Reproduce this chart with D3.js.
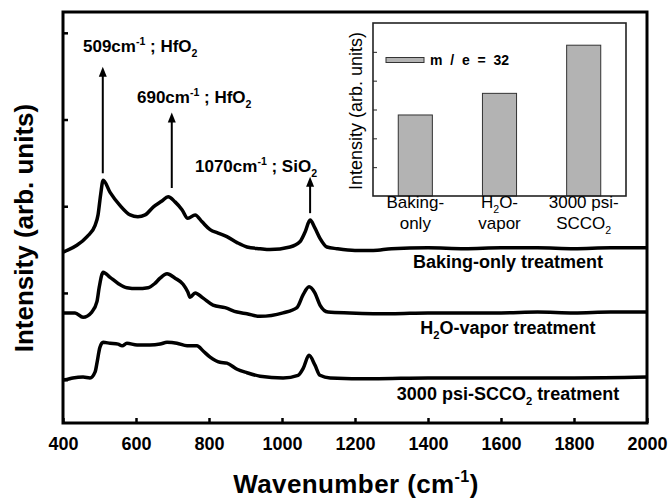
<!DOCTYPE html>
<html>
<head>
<meta charset="utf-8">
<script src="https://cdn.jsdelivr.net/npm/d3@7"></script>
<style>
  body { margin: 0; background: #fff; }
  text { font-family: Arial, "Liberation Sans", sans-serif; white-space: pre; }
</style>
</head>
<body>
<div id="graf"></div>
<script>
// Datos: espectros (número de onda, intensidad desplazada)
const bakingOnly = [[400,1.97],[405,1.98],[438,2.05],[466,2.15],[488,2.28],[496,2.40],[503,2.63],[510,2.80],
  [529,2.66],[556,2.51],[584,2.40],[605,2.38],[625,2.40],[647,2.49],[671,2.56],[688,2.61],[707,2.55],[726,2.46],
  [742,2.36],[762,2.40],[781,2.32],[803,2.23],[825,2.19],[849,2.15],[877,2.08],[904,2.03],[940,2.01],[967,2.00],
  [1022,2.03],[1049,2.09],[1063,2.20],[1077,2.34],[1090,2.25],[1104,2.13],[1123,2.03],[1151,2.01],[1200,1.99],
  [1250,1.99],[1300,2.01],[1400,2.02],[1500,2.01],[1600,2.02],[1700,2.02],[1800,2.01],[1900,2.02],[2000,2.02]];

const h2oVapor = [[400,1.27],[405,1.27],[433,1.27],[455,1.22],[479,1.28],[493,1.40],[499,1.56],[510,1.74],
  [529,1.68],[551,1.61],[575,1.56],[603,1.55],[633,1.56],[652,1.61],[666,1.67],[685,1.72],[707,1.67],[729,1.60],
  [742,1.51],[748,1.45],[762,1.50],[784,1.44],[811,1.36],[844,1.33],[877,1.28],[904,1.26],[940,1.23],[1003,1.27],
  [1041,1.33],[1058,1.48],[1074,1.57],[1090,1.50],[1104,1.36],[1126,1.28],[1186,1.27],[1300,1.26],[1400,1.27],
  [1500,1.27],[1600,1.27],[1700,1.28],[1800,1.27],[1900,1.28],[2000,1.28]];

const scco2 = [[400,0.50],[405,0.50],[427,0.52],[455,0.53],[474,0.52],[488,0.59],[493,0.69],[501,0.87],
  [510,0.93],[529,0.92],[551,0.91],[562,0.89],[575,0.92],[603,0.90],[638,0.90],[666,0.91],[685,0.93],[712,0.92],
  [740,0.89],[767,0.89],[784,0.83],[803,0.76],[830,0.70],[849,0.69],[877,0.62],[904,0.58],[940,0.54],[1003,0.52],
  [1044,0.55],[1058,0.63],[1074,0.78],[1090,0.67],[1104,0.55],[1132,0.52],[1250,0.51],[1400,0.52],[1600,0.52],
  [1800,0.52],[2000,0.53]];

const xTicks = [400, 600, 800, 1000, 1200, 1400, 1600, 1800, 2000];
const yTicks = [0.5, 1.5, 2.5, 3.5, 4.5];

// Picos anotados
const peakWaves = [509, 698, 1077];
const peakBase = [2.88, 2.71, 2.42];
const peakTip = [4.11, 3.58, 2.84];
const peakLabels = [
  [["509cm"], ["-1", "sup"], [" ; HfO"], ["2", "sub"]],
  [["690cm"], ["-1", "sup"], [" ; HfO"], ["2", "sub"]],
  [["1070cm"], ["-1", "sup"], [" ; SiO"], ["2", "sub"]],
];

const treatmentLabels = [
  [["Baking-only treatment"]],
  [["H"], ["2", "sub"], ["O-vapor treatment"]],
  [["3000 psi-SCCO"], ["2", "sub"], [" treatment"]],
];

// Inserto: m/e = 32
const insetCats = ["Baking-only", "H2O-vapor", "SCCO2"];
const insetValues = [2.81, 3.56, 5.23];
const insetTicks = [1, 2, 3, 4, 5];
const insetCatLabels = [
  [[["Baking-"]], [["only"]]],
  [[["H"], ["2", "sub"], ["O-"]], [["vapor"]]],
  [[["3000 psi-"]], [["SCCO"], ["2", "sub"]]],
];

// Dimensiones
const anchoTotal = 669;
const altoTotal = 501;
const margins = { top: 12, right: 22, bottom: 78, left: 63 };
const ancho = anchoTotal - margins.left - margins.right;
const alto = altoTotal - margins.top - margins.bottom;

const svg = d3.select("#graf").append("svg")
  .attr("width", anchoTotal)
  .attr("height", altoTotal);

const g = svg.append("g")
  .attr("transform", `translate(${margins.left}, ${margins.top})`);

const x = d3.scaleLinear().domain([400, 2000]).range([0, ancho]);
const y = d3.scaleLinear().domain([0, 4.74]).range([alto, 0]);

// texto con sub/superíndices
function rich(sel, parts, size) {
  let shift = 0;
  parts.forEach(([t, k]) => {
    const target = k === "sup" ? -0.42 * size : k === "sub" ? 0.28 * size : 0;
    const ts = sel.append("tspan").text(t);
    if (k) ts.style("font-size", size * 0.62 + "px");
    if (target - shift !== 0) ts.attr("dy", target - shift);
    shift = target;
  });
  return sel;
}

// Ejes
const xAxis = g.append("g")
  .attr("transform", `translate(0, ${alto})`)
  .call(d3.axisBottom(x).tickValues(xTicks).tickFormat(d3.format("d")).tickSizeInner(-5).tickSizeOuter(0));
xAxis.select(".domain").remove();
xAxis.selectAll("line").attr("stroke", "#000").attr("stroke-width", 2.5);
xAxis.selectAll("text")
  .attr("y", 27).attr("dy", null)
  .style("font-size", "18px").style("font-weight", "bold").attr("fill", "#000");

const yAxis = g.append("g")
  .call(d3.axisLeft(y).tickValues(yTicks).tickSizeInner(-5).tickSizeOuter(0).tickFormat(""));
yAxis.select(".domain").remove();
yAxis.selectAll("line").attr("stroke", "#000").attr("stroke-width", 2.5);

// Espectros
const line = d3.line().x(d => x(d[0])).y(d => y(d[1])).curve(d3.curveMonotoneX);
g.selectAll(".espectro")
  .data([bakingOnly, h2oVapor, scco2])
  .enter()
  .append("path")
  .attr("class", "espectro")
  .attr("d", line)
  .attr("fill", "none")
  .attr("stroke", "#000")
  .attr("stroke-width", 3.5)
  .attr("stroke-linejoin", "round");

// Marco
g.append("rect")
  .attr("width", ancho).attr("height", alto)
  .attr("fill", "none").attr("stroke", "#000").attr("stroke-width", 3);

// Flechas de picos
peakWaves.forEach((w, i) => {
  const px = x(w), tip = y(peakTip[i]), base = y(peakBase[i]);
  g.append("line")
    .attr("x1", px).attr("x2", px)
    .attr("y1", base).attr("y2", tip + 8)
    .attr("stroke", "#000").attr("stroke-width", 2);
  g.append("path")
    .attr("d", `M${px},${tip} L${px - 4},${tip + 10} L${px + 4},${tip + 10} Z`)
    .attr("fill", "#000");
});

const labelPos = [[20, 40], [74, 91], [132, 160]];
peakLabels.forEach((parts, i) => {
  const t = g.append("text")
    .attr("x", labelPos[i][0]).attr("y", labelPos[i][1])
    .style("font-size", "17px").style("font-weight", "bold");
  rich(t, parts, 17);
});

// Etiquetas de tratamiento
const treatY = [256, 322, 388];
treatmentLabels.forEach((parts, i) => {
  const t = g.append("text")
    .attr("x", 445).attr("y", treatY[i])
    .attr("text-anchor", "middle")
    .style("font-size", "18px").style("font-weight", "bold");
  rich(t, parts, 18);
});

// Títulos de ejes
rich(g.append("text")
  .attr("x", 293).attr("y", 481)
  .attr("text-anchor", "middle")
  .style("font-size", "26px").style("font-weight", "bold").style("letter-spacing", "0.4px"),
  [["Wavenumber (cm"], ["-1", "sup"], [")"]], 26);

g.append("text")
  .attr("transform", "translate(-30, 216) rotate(-90)")
  .attr("text-anchor", "middle")
  .style("font-size", "26px").style("font-weight", "bold")
  .text("Intensity (arb. units)");

// ------- Inserto -------
const ix = d3.scaleBand().domain(insetCats).range([310, 563]).paddingInner(0.595).paddingOuter(0.3);
const iy = d3.scaleLinear().domain([0, 6]).range([184, 11]);

g.append("rect")
  .attr("x", 310).attr("y", iy(6))
  .attr("width", 253).attr("height", iy(0) - iy(6))
  .attr("fill", "#fff");

g.selectAll(".barra")
  .data(insetValues)
  .enter()
  .append("rect")
  .attr("class", "barra")
  .attr("x", (d, i) => ix(insetCats[i]))
  .attr("y", d => iy(d))
  .attr("width", ix.bandwidth())
  .attr("height", d => iy(0) - iy(d))
  .attr("fill", "#b3b3b3")
  .attr("stroke", "#333")
  .attr("stroke-width", 1);

const iyAxis = g.append("g")
  .attr("transform", "translate(310, 0)")
  .call(d3.axisLeft(iy).tickValues(insetTicks).tickSizeInner(-4).tickSizeOuter(0).tickFormat(""));
iyAxis.select(".domain").remove();
iyAxis.selectAll("line").attr("stroke", "#222").attr("stroke-width", 1);

g.append("rect")
  .attr("x", 310).attr("y", iy(6))
  .attr("width", 253).attr("height", iy(0) - iy(6))
  .attr("fill", "none").attr("stroke", "#222").attr("stroke-width", 1.6);

// leyenda
g.append("rect")
  .attr("x", 323).attr("y", 45.5).attr("width", 38).attr("height", 5)
  .attr("fill", "#b3b3b3").attr("stroke", "#333").attr("stroke-width", 1);
g.append("text")
  .attr("x", 367).attr("y", 53)
  .style("font-size", "14px").style("font-weight", "bold")
  .text("m  /  e  =  32");

insetCatLabels.forEach((lines, i) => {
  const cx = ix(insetCats[i]) + ix.bandwidth() / 2;
  lines.forEach((parts, j) => {
    const t = g.append("text")
      .attr("x", cx).attr("y", 196 + j * 21)
      .attr("text-anchor", "middle")
      .style("font-size", "17px");
    rich(t, parts, 17);
  });
});

g.append("text")
  .attr("transform", "translate(299, 99) rotate(-90)")
  .attr("text-anchor", "middle")
  .style("font-size", "18px")
  .text("Intensity (arb. units)");
</script>
</body>
</html>
